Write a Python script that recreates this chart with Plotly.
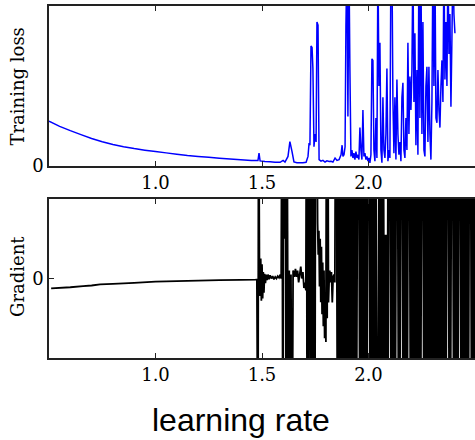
import plotly.graph_objects as go

# ---------------- data ----------------
# Training loss: smooth part
LOSS_SMOOTH_LR = [0.50, 0.55, 0.60, 0.65, 0.70, 0.75, 0.80, 0.85, 0.90, 0.95,
                  1.00, 1.05, 1.10, 1.15, 1.20, 1.25, 1.30, 1.35, 1.40, 1.45]
LOSS_SMOOTH = [0.280, 0.248, 0.221, 0.196, 0.172, 0.152, 0.135, 0.121, 0.109, 0.099,
               0.090, 0.082, 0.074, 0.066, 0.060, 0.054, 0.048, 0.043, 0.039, 0.035]
# Training loss: first unstable part
LOSS_MID_LR = [1.472, 1.481, 1.486, 1.491, 1.514, 1.538, 1.561, 1.585, 1.599, 1.608,
               1.622, 1.631, 1.641, 1.650, 1.664, 1.678, 1.692, 1.707, 1.716, 1.721,
               1.725, 1.730, 1.735, 1.739, 1.744, 1.749, 1.754, 1.758, 1.763, 1.768,
               1.777, 1.786, 1.796, 1.805, 1.815, 1.824, 1.833, 1.843, 1.852, 1.862,
               1.871, 1.876, 1.880, 1.885, 1.890]
LOSS_MID = [0.034, 0.034, 0.080, 0.032, 0.028, 0.026, 0.024, 0.023, 0.035, 0.025,
            0.060, 0.152, 0.090, 0.025, 0.020, 0.021, 0.020, 0.023, 0.060, 0.144,
            0.130, 0.750, 0.740, 0.610, 0.120, 0.200, 0.150, 0.900, 0.880, 0.040,
            0.030, 0.035, 0.025, 0.032, 0.028, 0.030, 0.025, 0.050, 0.035, 0.040,
            0.070, 0.130, 0.060, 0.070, 0.120]
# Training loss: divergent part, sampled every LOSS_STEP from LOSS_START
LOSS_START = 1.894
LOSS_STEP = 0.004695
LOSS_NOISY = [0.87, 1.3, 0.31, 1.3, 0.6, 0.06, 0.1, 0.05, 0.08, 0.04,
              0.09, 0.05, 0.07, 0.04, 0.24, 0.1, 0.04, 0.35, 0.06, 0.08,
              0.04, 0.06, 0.03, 0.05, 0.02, 0.07, 0.67, 0.66, 0.1, 0.03,
              0.3, 0.05, 1.3, 0.5, 0.77, 0.1, 0.02, 0.43, 0.1, 0.05,
              0.2, 0.61, 0.03, 0.1, 0.05, 1.3, 1.3, 0.41, 0.08, 0.43,
              0.04, 0.54, 0.2, 0.07, 0.15, 0.03, 0.43, 0.52, 0.1, 0.05,
              0.3, 0.1, 0.77, 0.2, 0.56, 0.35, 0.6, 1.3, 0.4, 0.83,
              0.13, 0.6, 0.07, 1.3, 0.3, 1.3, 0.2, 0.9, 0.1, 0.06,
              0.5, 0.62, 0.15, 0.62, 0.2, 0.04, 0.4, 1.3, 0.5, 1.3,
              0.3, 0.27, 0.6, 0.35, 0.24, 0.5, 0.66, 0.4, 1.3, 0.54,
              0.9, 0.5, 1.3, 0.7, 0.95, 0.37, 0.8, 1.3, 0.95, 0.83]

# Gradient: smooth part
GRAD_SMOOTH_LR = [0.51, 0.60, 0.66, 0.70, 0.74, 0.80, 0.90, 1.00, 1.10, 1.20, 1.30, 1.40, 1.47]
GRAD_SMOOTH = [-0.125, -0.110, -0.096, -0.088, -0.075, -0.068, -0.055, -0.040,
               -0.032, -0.026, -0.021, -0.017, -0.014]
# Gradient: first unstable part
GRAD_MID_LR = [1.476, 1.481, 1.484, 1.488, 1.491, 1.494, 1.497, 1.500, 1.503, 1.506,
               1.509, 1.512, 1.516, 1.520, 1.524, 1.528, 1.533, 1.538, 1.544, 1.550,
               1.556, 1.562, 1.568, 1.574, 1.580, 1.586, 1.590, 1.594, 1.598, 1.601,
               1.605, 1.609, 1.613, 1.617, 1.620, 1.624, 1.628, 1.632, 1.636, 1.641,
               1.646, 1.652, 1.657, 1.662, 1.667, 1.672, 1.677, 1.682, 1.687, 1.692,
               1.697, 1.702, 1.706, 1.709, 1.712, 1.715, 1.718, 1.722, 1.726, 1.729,
               1.732, 1.735, 1.738, 1.741, 1.744, 1.748, 1.752, 1.757, 1.761, 1.764,
               1.767, 1.770, 1.773, 1.776, 1.779, 1.782, 1.785, 1.788, 1.791, 1.794,
               1.797, 1.800, 1.803, 1.806, 1.809, 1.812, 1.815, 1.818, 1.822, 1.826,
               1.830, 1.834, 1.838, 1.842, 1.846]
GRAD_MID = [-0.012, -3, 3, 0.15, -0.22, 0.25, -0.28, 0.18, -0.25, 0.08,
            -0.18, 0.06, -0.06, 0.05, -0.02, 0.05, -0.01, 0.04, 0.0, 0.03,
            -0.01, 0.02, 0.0, 0.03, 0.01, 0.05, 0.0, 3, -3, 3,
            0.5, 3, -3, 3, 0.6, -3, 0.1, -3, 0.05, -3,
            0.1, 0.02, 0.12, 0.02, 0.1, -0.05, 0.05, 0.15, 0.0, 0.08,
            -0.12, -0.05, -0.15, 3, -3, 3, -3, 3, 3, -3,
            3, -3, 3, -3, 3, -3, 3, 3, 0.7, 0.3,
            0.6, -0.1, 0.5, -0.3, 0.4, -0.45, 0.2, -0.6, 0.1, -0.75,
            -0.2, -0.8, 3, -0.5, 3, -0.3, -0.05, 0.1, -0.05, 0.08,
            -0.3, 0.02, 0.05, -0.05, 3]
# Gradient: divergent part, sampled every GRAD_STEP from GRAD_START
GRAD_START = 1.850
GRAD_STEP = 0.007
GRAD_NOISY = [3, -3, 3, -3, 3, -3, 3, -3, 3, -3,
              3, -3, 3, -3, 3, 3, -3, 3, -3, 3,
              -3, 3, 3, -3, 3, -3, 3, -3, -3, 3,
              -3, 3, -3, 0.55, -3, 3, 3, -3, 3, -3,
              3, 3, -3, 3, 3, -3, 3, -3, 3, 3,
              -3, 3, -3, 3, -3, 3, -3, 3, 3, -3,
              3, -3, 3, -3, 3, -3, 3, -3, 3, -3,
              3, -3, 3, -3, 3, 3, -3, 3, 3, -3,
              3, -3, 3, 3, -3, 3, -3, 3, -3, 3,
              3, -3, 3, -3]

X_TICKS = [1.0, 1.5, 2.0]
X_TICK_TEXT = ["1.0", "1.5", "2.0"]
Y_TICKS = [0]
Y_TICK_TEXT = ["0"]

# ---------------- assemble ----------------
loss_x = LOSS_SMOOTH_LR + LOSS_MID_LR + [LOSS_START + LOSS_STEP * i for i in range(len(LOSS_NOISY))]
loss_y = LOSS_SMOOTH + LOSS_MID + LOSS_NOISY
grad_x = GRAD_SMOOTH_LR + GRAD_MID_LR
grad_y = GRAD_SMOOTH + GRAD_MID
grad_dense_x = [GRAD_MID_LR[-1]] + [GRAD_START + GRAD_STEP * i for i in range(len(GRAD_NOISY))]
grad_dense_y = [GRAD_MID[-1]] + GRAD_NOISY

SERIF = "DejaVu Serif"
fig = go.Figure()
fig.add_trace(go.Scatter(x=loss_x, y=loss_y, mode="lines",
                         line=dict(color="#0000ff", width=1.5, simplify=False),
                         xaxis="x", yaxis="y", showlegend=False))
fig.add_trace(go.Scatter(x=grad_x, y=grad_y, mode="lines",
                         line=dict(color="black", width=1.8, simplify=False),
                         xaxis="x2", yaxis="y2", showlegend=False))
fig.add_trace(go.Scatter(x=grad_dense_x, y=grad_dense_y, mode="lines",
                         line=dict(color="black", width=2.6, simplify=False),
                         xaxis="x2", yaxis="y2", showlegend=False))

ax = dict(showline=True, linecolor="#222222", linewidth=1.5, ticks="inside",
          ticklen=5, tickwidth=1, tickcolor="#222222", showgrid=False,
          zeroline=False, tickfont=dict(family=SERIF, size=18, color="black"))

top_dom = [(358 - 166) / 352, 1.0]
bot_dom = [0.0, (358 - 199) / 352]

fig.update_layout(
    width=475, height=440,
    margin=dict(l=49, r=0, t=6, b=82),
    paper_bgcolor="white", plot_bgcolor="white",
    xaxis=dict(ax, domain=[0, 1], range=[0.5, 2.5], tickvals=X_TICKS,
               ticktext=X_TICK_TEXT, mirror="ticks", anchor="y"),
    yaxis=dict(ax, domain=top_dom, range=[0, 1], tickvals=Y_TICKS,
               ticktext=Y_TICK_TEXT, anchor="x"),
    xaxis2=dict(ax, domain=[0, 1], range=[0.5, 2.5], tickvals=X_TICKS,
                ticktext=X_TICK_TEXT, mirror="ticks", anchor="y2"),
    yaxis2=dict(ax, domain=bot_dom, range=[-1, 1], tickvals=Y_TICKS,
                ticktext=Y_TICK_TEXT, anchor="x2"),
    annotations=[
        dict(text="Training loss", xref="paper", yref="paper",
             x=(17 - 49) / 426, y=(358 - 86.5) / 352, textangle=-90,
             showarrow=False, xanchor="center", yanchor="middle",
             font=dict(family=SERIF, size=18, color="black")),
        dict(text="Gradient", xref="paper", yref="paper",
             x=(17 - 49) / 426, y=(358 - 277) / 352, textangle=-90,
             showarrow=False, xanchor="center", yanchor="middle",
             font=dict(family=SERIF, size=18, color="black")),
        dict(text="learning rate", xref="paper", yref="paper",
             x=(241 - 49) / 426, y=(358 - 420) / 352,
             showarrow=False, xanchor="center", yanchor="middle",
             font=dict(family="Liberation Sans", size=32, color="black")),
    ],
)

fig.write_html("out.html", config={"displayModeBar": False},
               post_script="document.body.style.margin='0';"
                           "document.body.style.overflow='hidden';")
